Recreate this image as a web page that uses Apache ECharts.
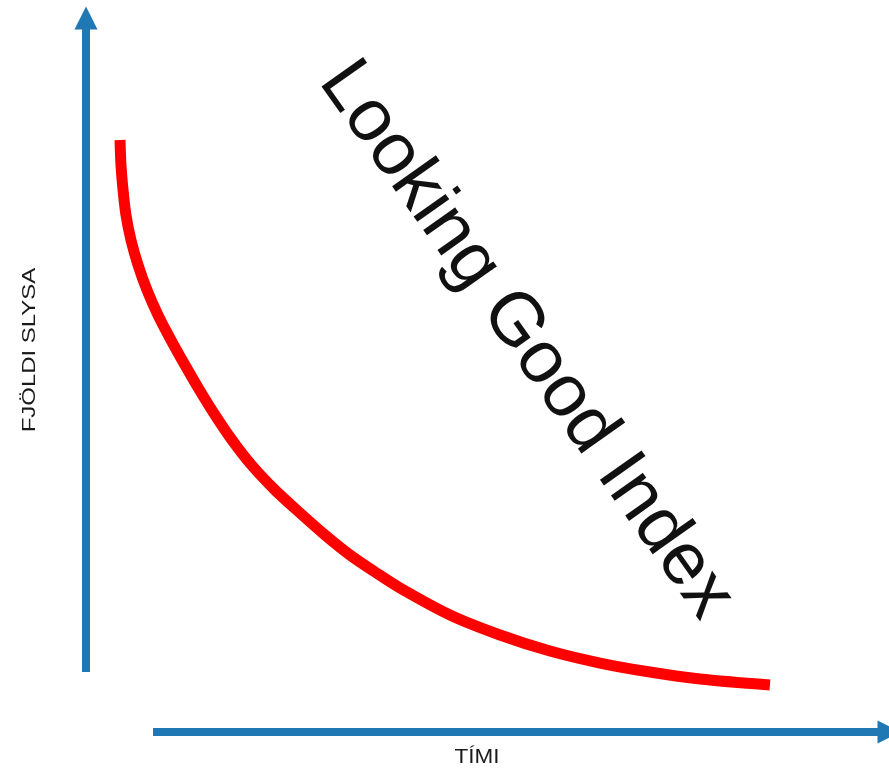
<!DOCTYPE html>
<html>
<head>
<meta charset="utf-8">
<script src="https://cdn.jsdelivr.net/npm/echarts@6/dist/echarts.min.js"></script>
<style>
  html, body { margin: 0; padding: 0; background: #fff; }
  #chart { width: 889px; height: 772px; }
</style>
</head>
<body>
<div id="chart"></div>
<script>
// curve: time (0..10) vs number of accidents (0..100)
const timi = [0.429, 0.441, 0.467, 0.504, 0.567, 0.656, 0.769, 0.908, 1.072, 1.248, 1.431, 1.627, 1.841,
  2.087, 2.383, 2.699, 3.014, 3.329, 3.644, 3.960, 4.590, 5.221, 5.851, 6.482, 7.112, 7.743, 8.625];
const slys = [82.91, 79.41, 75.91, 72.41, 68.91, 65.41, 61.90, 58.40, 54.90, 51.40, 47.90, 44.40, 40.90,
  37.39, 33.89, 30.67, 27.59, 24.79, 22.41, 20.17, 16.39, 13.59, 11.34, 9.66, 8.40, 7.42, 6.58];

const xName = "TÍMI";
const yName = "FJÖLDI SLYSA";
const headline = "Looking Good Index";

const blue = "#1f77b4";
const font = "'Liberation Sans', Arial, sans-serif";

const chart = echarts.init(document.getElementById("chart"));

const hidden = { show: false };
const arrowLine = {
  show: true,
  symbol: ["none", "triangle"],
  symbolSize: [23, 23],
  lineStyle: { color: blue, width: 8, cap: "butt" }
};

chart.setOption({
  animation: false,
  grid: [
    // curve
    { left: 86, right: 10, top: 18, bottom: 40 },
    // vertical arrow
    { left: 86, right: 10, top: 18, bottom: 100 },
    // horizontal arrow
    { left: 153, right: -1.5, top: 690, bottom: 40 }
  ],
  xAxis: [
    { gridIndex: 0, type: "value", min: 0, max: 10, show: false },
    { gridIndex: 1, type: "value", min: 0, max: 10, show: false },
    {
      gridIndex: 2, type: "value", min: 0, max: 10,
      axisLine: arrowLine, axisTick: hidden, axisLabel: hidden, splitLine: hidden
    }
  ],
  yAxis: [
    { gridIndex: 0, type: "value", min: 0, max: 100, show: false },
    {
      gridIndex: 1, type: "value", min: 0, max: 100,
      axisLine: arrowLine, axisTick: hidden, axisLabel: hidden, splitLine: hidden
    },
    { gridIndex: 2, type: "value", min: 0, max: 1, show: false }
  ],
  series: [
    {
      type: "line",
      xAxisIndex: 0,
      yAxisIndex: 0,
      data: timi.map((t, i) => [t, slys[i]]),
      smooth: 0.3,
      showSymbol: false,
      lineStyle: { color: "#ff0000", width: 11, cap: "butt", join: "round" }
    }
  ],
  graphic: [
    {
      type: "text",
      x: 526, y: 340,
      rotation: -54.7 * Math.PI / 180,
      style: {
        text: headline, fill: "#111", font: "74px " + font,
        textAlign: "center", textVerticalAlign: "middle"
      }
    },
    {
      type: "text",
      x: 30, y: 350,
      rotation: Math.PI / 2,
      scaleX: 1.33,
      style: {
        text: yName, fill: "#1a1a1a", font: "18px " + font,
        textAlign: "center", textVerticalAlign: "middle"
      }
    },
    {
      type: "text",
      x: 477, y: 757,
      scaleX: 1.07,
      style: {
        text: xName, fill: "#1a1a1a", font: "21px " + font,
        textAlign: "center", textVerticalAlign: "middle"
      }
    }
  ]
});
</script>
</body>
</html>
